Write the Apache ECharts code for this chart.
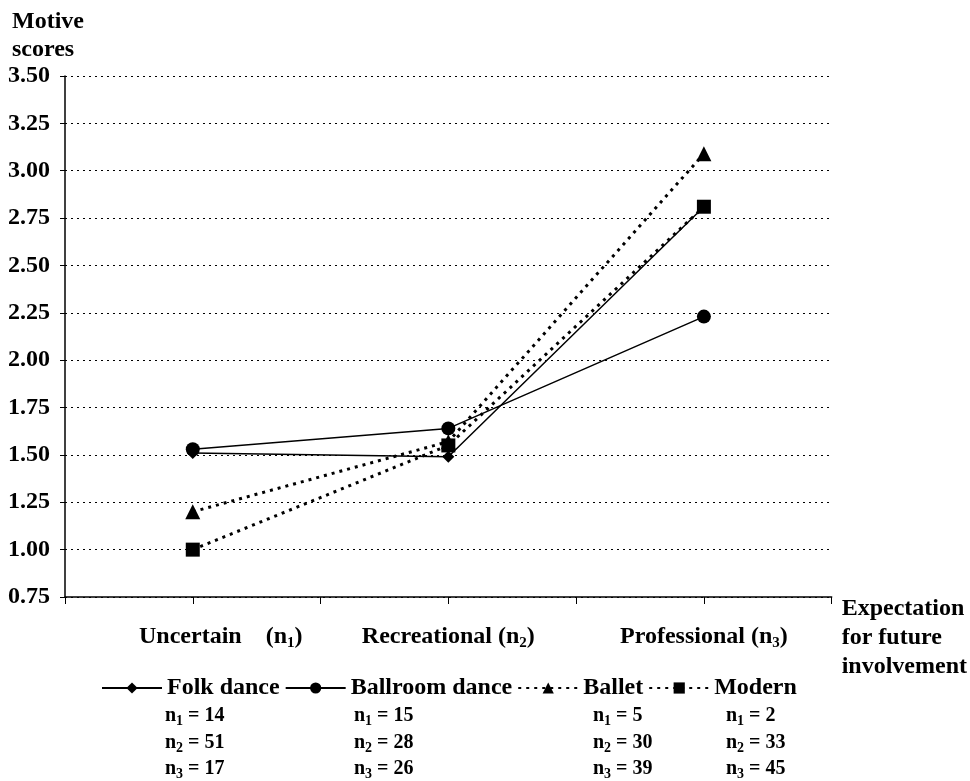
<!DOCTYPE html>
<html>
<head>
<meta charset="utf-8">
<script src="https://cdn.jsdelivr.net/npm/echarts@6/dist/echarts.min.js"></script>
<style>
  html, body { margin: 0; padding: 0; background: #fff; }
  #chart { width: 970px; height: 781px; }
</style>
</head>
<body>
<div id="chart"></div>
<script>
// Involvement categories (subscript index follows each label)
const categories = ['Uncertain', 'Recreational', 'Professional'];
const yTicks = { min: 0.75, max: 3.5, step: 0.25 };

// Mean motive scores per dance style
const folkDance = [1.51, 1.49, 2.81];
const ballroomDance = [1.53, 1.64, 2.23];
const ballet = [1.20, 1.57, 3.09];
const modern = [1.00, 1.55, 2.81];

// Group sizes n1, n2, n3 for each style
const folkN = [14, 51, 17];
const ballroomN = [15, 28, 26];
const balletN = [5, 30, 39];
const modernN = [2, 33, 45];

const FONT = 'Liberation Serif';
const FS = 24;
const chart = echarts.init(document.getElementById('chart'));

// categories sit on odd positions of a 0..6 axis, leaving ticks in between
const toPoints = vals => vals.map((v, i) => [2 * i + 1, v]);

const solid = { color: '#000', width: 1.5, type: 'solid' };
const dotted = { color: '#000', width: 3, type: [3, 5] };

const seriesDefs = [
  { name: 'Folk dance', data: folkDance, symbol: 'diamond', size: 12, line: solid },
  { name: 'Ballroom dance', data: ballroomDance, symbol: 'circle', size: 14, line: solid },
  { name: 'Ballet', data: ballet, symbol: 'triangle', size: 15, line: dotted },
  { name: 'Modern', data: modern, symbol: 'rect', size: 14, line: dotted }
];

const nGroups = [folkN, ballroomN, balletN, modernN];
const nColumnsX = [165, 354, 593, 726];
const nRowsY = [706, 733, 759];

const nTexts = [];
nGroups.forEach((grp, c) => {
  grp.forEach((n, r) => {
    nTexts.push({
      type: 'text',
      left: nColumnsX[c],
      top: nRowsY[r],
      style: {
        text: '{b|n}{s|' + (r + 1) + '}{b| = ' + n + '}',
        rich: {
          b: { fontFamily: FONT, fontWeight: 'bold', fontSize: 20, fill: '#000', lineHeight: 24, verticalAlign: 'middle' },
          s: { fontFamily: FONT, fontWeight: 'bold', fontSize: 14, fill: '#000', lineHeight: 14, verticalAlign: 'bottom' }
        }
      }
    });
  });
});

const labelRich = {
  t: { fontFamily: FONT, fontWeight: 'bold', fontSize: FS, color: '#000', lineHeight: 28, verticalAlign: 'middle' },
  s: { fontFamily: FONT, fontWeight: 'bold', fontSize: 15, color: '#000', lineHeight: 15, verticalAlign: 'bottom' },
  gap: { width: 56 }
};

chart.setOption({
  animation: false,
  backgroundColor: '#fff',
  grid: { left: 65, right: 138, top: 76, bottom: 184, containLabel: false },
  legend: {
    left: 96,
    top: 671,
    itemWidth: 60,
    itemHeight: 14,
    itemGap: 5,
    textStyle: { fontFamily: FONT, fontWeight: 'bold', fontSize: FS, color: '#000' },
    data: seriesDefs.map(s => s.name)
  },
  xAxis: {
    type: 'value',
    min: 0,
    max: 6,
    interval: 1,
    name: 'Expectation\nfor future\ninvolvement',
    nameLocation: 'end',
    nameGap: 10,
    nameTextStyle: {
      fontFamily: FONT, fontWeight: 'bold', fontSize: FS, color: '#000',
      align: 'left', verticalAlign: 'top', lineHeight: 29, padding: [-3, 0, 0, 0]
    },
    axisLine: { lineStyle: { color: '#000', width: 1.5 } },
    axisTick: { show: true, length: 7, lineStyle: { color: '#000', width: 1 } },
    splitLine: { show: false },
    axisLabel: {
      margin: 26,
      showMinLabel: true,
      showMaxLabel: true,
      formatter: v => {
        if (v % 2 !== 1) return '';
        const i = (v - 1) / 2;
        const spacer = i === 0 ? '{gap|}' : '';
        const sep = i === 0 ? '    ' : ' ';
        return spacer + '{t|' + categories[i] + sep + '(n}{s|' + (i + 1) + '}{t|)}';
      },
      rich: labelRich
    }
  },
  yAxis: {
    type: 'value',
    min: yTicks.min,
    max: yTicks.max,
    interval: yTicks.step,
    axisLine: { show: true, lineStyle: { color: '#000', width: 1.5 } },
    axisTick: { show: true, length: 5, lineStyle: { color: '#000', width: 1 } },
    axisLabel: {
      margin: 15,
      fontFamily: FONT, fontWeight: 'bold', fontSize: FS, color: '#000',
      formatter: v => v.toFixed(2)
    },
    splitLine: { show: true, lineStyle: { color: '#000', width: 1.2, type: [2, 4] } }
  },
  graphic: [
    {
      type: 'text',
      left: 12,
      top: 8,
      style: {
        text: 'Motive\nscores',
        fontFamily: FONT, fontWeight: 'bold', fontSize: FS, fill: '#000', lineHeight: 28
      }
    }
  ].concat(nTexts),
  series: seriesDefs.map(s => ({
    name: s.name,
    type: 'line',
    data: toPoints(s.data),
    symbol: s.symbol,
    symbolSize: s.size,
    showSymbol: true,
    itemStyle: { color: '#000' },
    lineStyle: s.line,
    z: 3
  }))
});
</script>
</body>
</html>
